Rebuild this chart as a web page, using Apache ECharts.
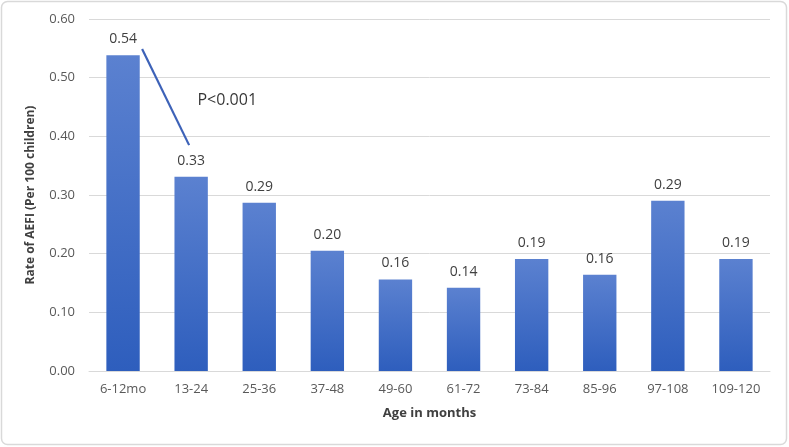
<!DOCTYPE html>
<html><head><meta charset="utf-8">
<script src="https://cdn.jsdelivr.net/npm/echarts@6/dist/echarts.min.js"></script>
<style>
html,body{margin:0;padding:0;background:#fff;}
#c{width:789px;height:447px;}
</style></head>
<body><div id="c"></div>
<script>
const categories = ['6-12mo','13-24','25-36','37-48','49-60','61-72','73-84','85-96','97-108','109-120'];
const rates = [0.538, 0.331, 0.287, 0.205, 0.156, 0.142, 0.191, 0.164, 0.290, 0.191];
const yTicks = [0, 0.1, 0.2, 0.3, 0.4, 0.5, 0.6];
const pLineX = [0.28, 0.97];
const pLineY = [0.549, 0.385];
const pText = 'P<0.001';
const pTextPos = [1.53, 0.462];

const chart = echarts.init(document.getElementById('c'), null, {renderer:'canvas'});
chart.setOption({
  animation:false,
  backgroundColor:'#fff',
  graphic:[{type:'rect', shape:{x:1.5,y:1.5,width:785,height:443,r:6}, style:{fill:'none',stroke:'#d9d9d9',lineWidth:1.5}, z:-1}],
  grid:{left:89, right:19, top:19, bottom:76, containLabel:false},
  xAxis:[{
    type:'category', data:categories,
    axisLine:{lineStyle:{color:'#d9d9d9'}}, axisTick:{show:false},
    axisLabel:{color:'#595959', fontSize:13, fontFamily:'Open Sans, sans-serif', margin:12},
    name:'Age in months', nameLocation:'middle', nameGap:36,
    nameTextStyle:{color:'#404040', fontSize:13, fontWeight:'bold', fontFamily:'Open Sans, sans-serif'}
  },{
    type:'value', min:-0.5, max:9.5, show:false
  }],
  yAxis:{
    type:'value', min:yTicks[0], max:yTicks[yTicks.length-1], interval:0.1,
    axisLabel:{color:'#595959', fontSize:13, fontFamily:'Open Sans, sans-serif', margin:14, formatter:v=>v.toFixed(2)},
    axisLine:{show:false}, axisTick:{show:false},
    splitLine:{lineStyle:{color:'#d9d9d9', width:1}},
    name:'Rate of AEFI (Per 100 children)', nameLocation:'middle', nameGap:52, nameRotate:90,
    nameTextStyle:{color:'#404040', fontSize:12, fontWeight:'bold', fontFamily:'Open Sans, sans-serif'}
  },
  series:[{
    type:'bar', data:rates, barWidth:'49%',
    itemStyle:{color:new echarts.graphic.LinearGradient(0,0,0,1,[{offset:0,color:'#5b81d0'},{offset:1,color:'#2e5ebd'}])},
    label:{show:true, position:'top', distance:9, color:'#404040', fontSize:14, fontFamily:'Open Sans, sans-serif', formatter:p=>p.value.toFixed(2)}
  },{
    type:'line', xAxisIndex:1, data:pLineX.map((x,i)=>[x,pLineY[i]]),
    symbol:'none', lineStyle:{color:'#3d62b8', width:2.2}
  },{
    type:'scatter', xAxisIndex:1, data:[pTextPos], symbolSize:0,
    label:{show:true, position:'inside', formatter:pText, color:'#000', fontSize:16, fontFamily:'Open Sans, sans-serif'}
  }]
});
</script></body></html>
